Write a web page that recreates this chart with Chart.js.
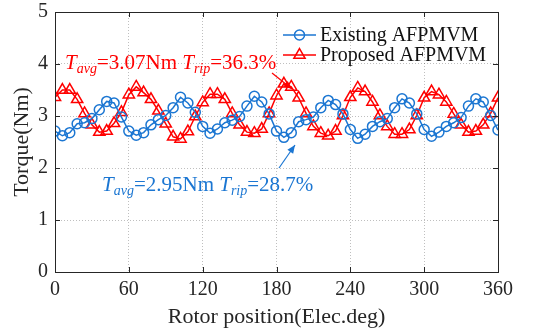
<!DOCTYPE html>
<html>
<head>
<meta charset="utf-8">
<script src="https://cdn.jsdelivr.net/npm/chart.js@4.4.1/dist/chart.umd.min.js"></script>
<style>
  html, body { margin: 0; padding: 0; background: #fff; }
  #chart { display: block; }
</style>
</head>
<body>
<canvas id="chart" width="544" height="333" style="width:544px;height:333px"></canvas>
<script>
// rotor position (electrical degrees), one sample every 6 deg
const angles = [0, 6, 12, 18, 24, 30, 36, 42, 48, 54, 60, 66, 72, 78, 84, 90, 96, 102, 108, 114, 120,
  126, 132, 138, 144, 150, 156, 162, 168, 174, 180, 186, 192, 198, 204, 210, 216, 222, 228, 234, 240,
  246, 252, 258, 264, 270, 276, 282, 288, 294, 300, 306, 312, 318, 324, 330, 336, 342, 348, 354, 360];

// torque (Nm)
const existingTorque = [2.71, 2.62, 2.68, 2.85, 2.87, 2.95, 3.12, 3.28, 3.25, 2.98, 2.71,
  2.63, 2.68, 2.83, 2.93, 3.01, 3.16, 3.36, 3.25, 3.07, 2.80,
  2.67, 2.75, 2.87, 2.92, 2.99, 3.19, 3.38, 3.27, 3.04, 2.71,
  2.59, 2.68, 2.89, 2.93, 2.98, 3.16, 3.30, 3.22, 3.04, 2.74,
  2.57, 2.65, 2.80, 2.89, 2.95, 3.16, 3.33, 3.25, 3.04, 2.74,
  2.61, 2.69, 2.80, 2.87, 2.97, 3.19, 3.33, 3.27, 3.01, 2.73];

const proposedTorque = [3.36, 3.50, 3.50, 3.32, 3.05, 2.83, 2.69, 2.71, 2.86, 3.07, 3.41,
  3.56, 3.45, 3.32, 3.10, 2.85, 2.60, 2.56, 2.70, 2.99, 3.26,
  3.42, 3.42, 3.32, 3.05, 2.83, 2.69, 2.67, 2.75, 3.05, 3.39,
  3.62, 3.56, 3.35, 3.05, 2.80, 2.67, 2.62, 2.71, 3.01, 3.36,
  3.54, 3.47, 3.27, 3.01, 2.80, 2.65, 2.65, 2.74, 3.01, 3.35,
  3.47, 3.41, 3.27, 3.04, 2.83, 2.69, 2.71, 2.83, 3.05, 3.35];

const seriesNames = ['Existing AFPMVM', 'Proposed AFPMVM'];
const xTicks = [0, 60, 120, 180, 240, 300, 360];
const yTicks = [0, 1, 2, 3, 4, 5];

const BLUE = '#1b76d2';
const RED = '#ff0000';
const FONT = "'Liberation Serif', 'Times New Roman', serif";

function toPoints(ys){
  return angles.map((a, i) => ({ x: a, y: ys[i] }));
}

// frame, inward ticks, legend and the two annotations (MATLAB look)
const decor = {
  id: 'decor',
  afterDraw(chart){
    const ctx = chart.ctx;
    const a = chart.chartArea;
    const xs = chart.scales.x, ys = chart.scales.y;
    ctx.save();
    ctx.strokeStyle = '#262626';
    ctx.lineWidth = 1;
    ctx.strokeRect(Math.round(a.left) + 0.5, Math.round(a.top) + 0.5,
      Math.round(a.right - a.left), Math.round(a.bottom - a.top));
    ctx.beginPath();
    xTicks.forEach(t => {
      const px = Math.round(xs.getPixelForValue(t)) + 0.5;
      ctx.moveTo(px, a.bottom); ctx.lineTo(px, a.bottom - 5);
      ctx.moveTo(px, a.top); ctx.lineTo(px, a.top + 5);
    });
    yTicks.forEach(t => {
      const py = Math.round(ys.getPixelForValue(t)) + 0.5;
      ctx.moveTo(a.left, py); ctx.lineTo(a.left + 5, py);
      ctx.moveTo(a.right, py); ctx.lineTo(a.right - 5, py);
    });
    ctx.stroke();

    // legend
    const rows = [
      { name: seriesNames[0], color: BLUE, style: 'circle', r: 5, y: 35 },
      { name: seriesNames[1], color: RED, style: 'triangle', r: 6.5, y: 55 }
    ];
    rows.forEach(row => {
      ctx.strokeStyle = row.color;
      ctx.fillStyle = 'rgba(0,0,0,0)';
      ctx.lineWidth = 1.5;
      ctx.beginPath(); ctx.moveTo(283, row.y); ctx.lineTo(316, row.y); ctx.stroke();
      Chart.helpers.drawPoint(ctx, { pointStyle: row.style, radius: row.r, borderWidth: 1.5, rotation: 0 }, 299.5, row.y);
      ctx.fillStyle = '#111';
      ctx.font = '20px ' + FONT;
      ctx.textBaseline = 'middle';
      ctx.fillText(row.name, 320, row.y + 1);
    });

    // annotations
    function label(x, y, avg, rip, color){
      ctx.fillStyle = color;
      ctx.textBaseline = 'alphabetic';
      let cx = x;
      const part = (txt, font, dy) => { ctx.font = font; ctx.fillText(txt, cx, y + dy); cx += ctx.measureText(txt).width; };
      part('T', 'italic 21px ' + FONT, 0);
      part('avg', 'italic 14px ' + FONT, 4);
      part('=' + avg + 'Nm ', '21px ' + FONT, 0);
      part('T', 'italic 21px ' + FONT, 0);
      part('rip', 'italic 14px ' + FONT, 4);
      part('=' + rip + '%', '21px ' + FONT, 0);
    }
    function arrow(x1, y1, x2, y2, color){
      ctx.strokeStyle = color; ctx.fillStyle = color; ctx.lineWidth = 1.2;
      ctx.beginPath(); ctx.moveTo(x1, y1); ctx.lineTo(x2, y2); ctx.stroke();
      const ang = Math.atan2(y2 - y1, x2 - x1);
      ctx.beginPath();
      ctx.moveTo(x2, y2);
      ctx.lineTo(x2 - 9 * Math.cos(ang - 0.4), y2 - 9 * Math.sin(ang - 0.4));
      ctx.lineTo(x2 - 9 * Math.cos(ang + 0.4), y2 - 9 * Math.sin(ang + 0.4));
      ctx.closePath(); ctx.fill();
    }
    label(65, 69, '3.07', '36.3', RED);
    arrow(272, 73, 292, 89, RED);
    label(102, 191, '2.95', '28.7', BLUE);
    arrow(279, 168, 295, 145, BLUE);
    ctx.restore();
  }
};

new Chart(document.getElementById('chart'), {
  type: 'line',
  data: {
    datasets: [
      {
        label: seriesNames[0], data: toPoints(existingTorque),
        borderColor: BLUE, backgroundColor: 'rgba(0,0,0,0)', borderWidth: 1.5,
        pointStyle: 'circle', pointRadius: 5, pointBorderWidth: 1.5,
        pointBorderColor: BLUE, pointBackgroundColor: 'rgba(0,0,0,0)', tension: 0
      },
      {
        label: seriesNames[1], data: toPoints(proposedTorque),
        borderColor: RED, backgroundColor: 'rgba(0,0,0,0)', borderWidth: 1.5,
        pointStyle: 'triangle', pointRadius: 6.5, pointBorderWidth: 1.5,
        pointBorderColor: RED, pointBackgroundColor: 'rgba(0,0,0,0)', tension: 0
      }
    ]
  },
  options: {
    responsive: false,
    animation: false,
    layout: { padding: { left: 0, right: 46, top: 12, bottom: 0 } },
    plugins: { legend: { display: false }, tooltip: { enabled: false } },
    scales: {
      x: {
        type: 'linear', min: 0, max: 360,
        afterBuildTicks: s => { s.ticks = xTicks.map(v => ({ value: v })); },
        afterFit: s => { s.height = 61; s.paddingLeft = 0; s.paddingRight = 0; },
        grid: { color: 'rgba(0,0,0,0.25)', drawTicks: false },
        border: { display: false, dash: [1, 2] },
        ticks: { color: '#262626', padding: 6, maxRotation: 0, font: { family: FONT, size: 20 } },
        title: { display: true, text: 'Rotor position(Elec.deg)', color: '#262626',
          padding: { top: 0, bottom: 3 }, font: { family: FONT, size: 22 } }
      },
      y: {
        min: 0, max: 5,
        afterBuildTicks: s => { s.ticks = yTicks.map(v => ({ value: v })); },
        afterFit: s => { s.width = 55; s.paddingTop = 0; s.paddingBottom = 0; },
        grid: { color: 'rgba(0,0,0,0.25)', drawTicks: false },
        border: { display: false, dash: [1, 2] },
        ticks: { color: '#262626', padding: 7, font: { family: FONT, size: 20 } },
        title: { display: true, text: 'Torque(Nm)', color: '#262626',
          padding: { top: 9, bottom: 0 }, font: { family: FONT, size: 22 } }
      }
    }
  },
  plugins: [decor]
});
</script>
</body>
</html>
